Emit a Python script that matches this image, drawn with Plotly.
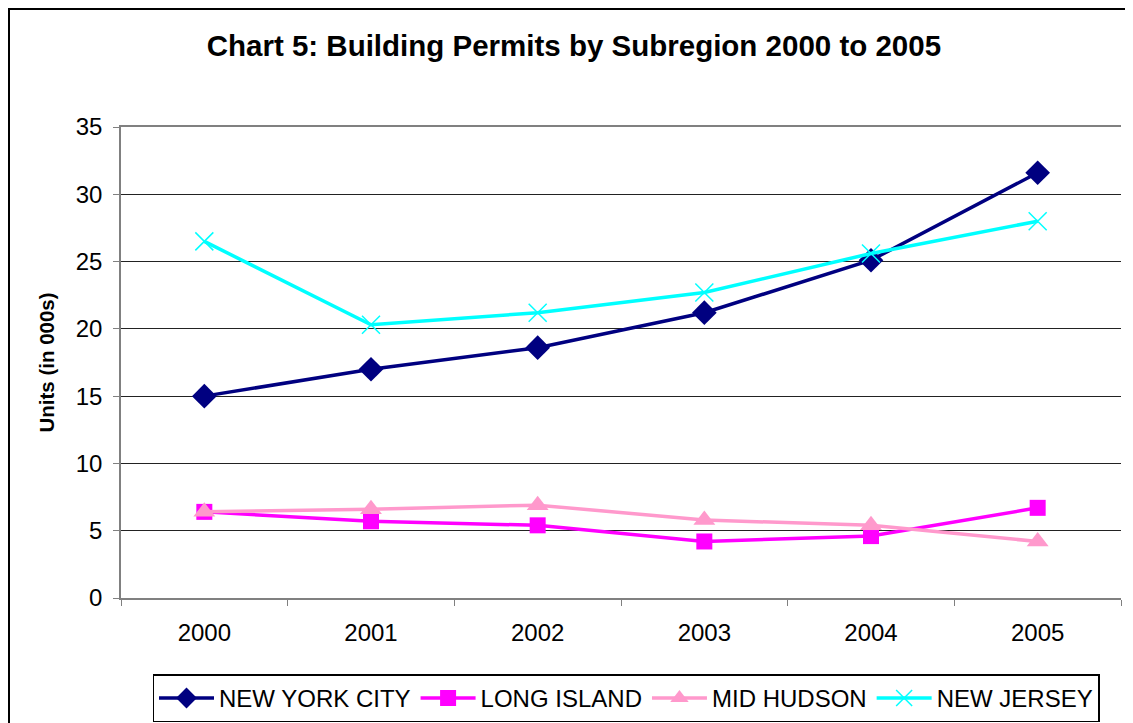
import plotly.graph_objects as go

# Building permits by subregion, units in thousands
YEARS = ["2000", "2001", "2002", "2003", "2004", "2005"]
NEW_YORK_CITY = [15.0, 17.0, 18.6, 21.2, 25.1, 31.6]
LONG_ISLAND = [6.4, 5.7, 5.4, 4.2, 4.6, 6.7]
MID_HUDSON = [6.4, 6.6, 6.9, 5.8, 5.4, 4.2]
NEW_JERSEY = [26.5, 20.3, 21.2, 22.7, 25.6, 28.0]

Y_TICKS = [0, 5, 10, 15, 20, 25, 30, 35]

FONT = "Liberation Sans, Arial, sans-serif"

SERIES = [
    ("NEW YORK CITY", NEW_YORK_CITY, "#000080", "diamond", 19),
    ("LONG ISLAND", LONG_ISLAND, "#FF00FF", "square", 16),
    ("MID HUDSON", MID_HUDSON, "#FF99CC", "triangle-up", 19),
    ("NEW JERSEY", NEW_JERSEY, "#00FFFF", "x-thin-open", 18),
]

fig = go.Figure()
for name, values, color, symbol, size in SERIES:
    marker = dict(symbol=symbol, size=size, color=color)
    if symbol.endswith("-open"):
        marker["line"] = dict(color=color, width=1.5)
    fig.add_trace(go.Scatter(
        x=YEARS, y=values, name=name, mode="lines+markers",
        line=dict(color=color, width=3.5),
        marker=marker,
    ))

# outer chart border (Excel chart area)
fig.add_shape(type="rect", xref="paper", yref="paper",
              x0=-0.112, x1=1.009, y0=-0.3, y1=1.2505,
              line=dict(color="black", width=2), fillcolor="rgba(0,0,0,0)",
              layer="below")

# page body adds an 8px offset; the overflow on right/bottom just gets cut
fig.update_layout(
    width=1125, height=715,
    margin=dict(l=113, r=12, t=119, b=125),
    paper_bgcolor="white", plot_bgcolor="white",
    font=dict(family=FONT, size=24, color="black"),
    title=dict(text="<b>Chart 5: Building Permits by Subregion 2000 to 2005</b>",
               x=0.503, xanchor="center", y=0.948, yanchor="middle",
               font=dict(size=29.5, family=FONT, color="black")),
    showlegend=True,
    legend=dict(orientation="h", x=0.505, xanchor="center",
                yref="container", y=0.068, yanchor="top",
                bordercolor="black", borderwidth=1.5, bgcolor="white",
                font=dict(size=24, family=FONT), itemwidth=55,
                tracegroupgap=0),
)

fig.update_xaxes(
    type="category", range=[-0.5, 5.5], automargin=False,
    showline=True, linecolor="#808080", linewidth=1.5, mirror=True,
    ticks="outside", tickson="boundaries", ticklen=6, tickcolor="#808080",
    showgrid=False, tickfont=dict(size=24, family=FONT), ticklabelstandoff=12,
)
fig.update_yaxes(
    range=[0, 35], tickvals=Y_TICKS, automargin=False,
    showline=True, linecolor="#808080", linewidth=1.5,
    ticks="outside", ticklen=6, tickcolor="#808080",
    showgrid=True, gridcolor="#222222", gridwidth=1,
    zeroline=False,
    tickfont=dict(size=24, family=FONT), ticklabelstandoff=6,
    title=dict(text="<b>Units (in 000s)</b>", font=dict(size=20.5, family=FONT), standoff=16),
)

fig.write_html("out.html")
